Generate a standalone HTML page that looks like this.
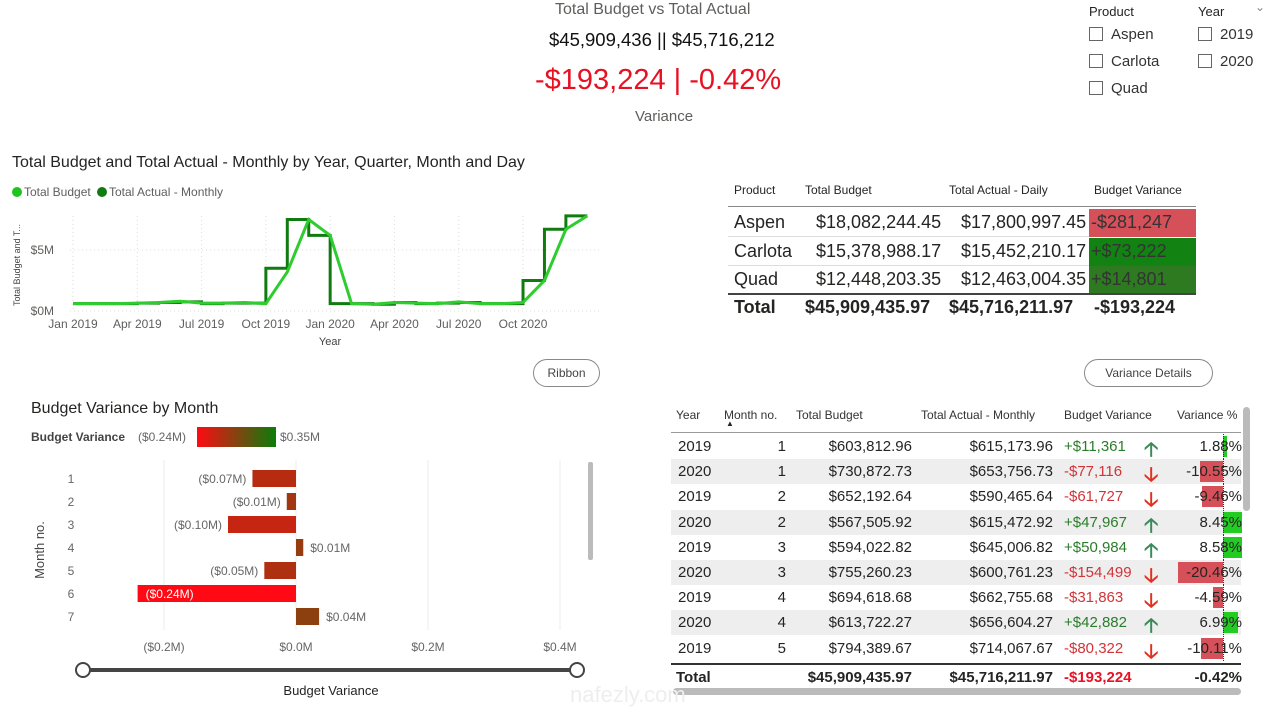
<!DOCTYPE html>
<html><head><meta charset="utf-8">
<style>
*{box-sizing:border-box;margin:0;padding:0}
body{width:1278px;height:715px;background:#fff;font-family:"Liberation Sans",sans-serif;position:relative;overflow:hidden;color:#252423}
.a{position:absolute;white-space:nowrap}
.cb{position:absolute;width:14px;height:14px;border:1px solid #666;background:#fff}
.btn{position:absolute;border:1px solid #888;border-radius:14px;font-size:12px;color:#444;text-align:center;line-height:26px;height:28px}
</style></head><body>
<div class="a" style="left:555px;top:1px;font-size:16px;color:#605e5c">Total Budget vs Total Actual</div>
<div class="a" style="left:549px;top:29px;font-size:18.5px;color:#111">$45,909,436 || $45,716,212</div>
<div class="a" style="left:535px;top:64px;font-size:29px;color:#e81123">-$193,224 | -0.42%</div>
<div class="a" style="left:635px;top:108px;font-size:15px;color:#605e5c">Variance</div>

<div class="a" style="left:1089px;top:4px;font-size:13px">Product</div>
<div class="a" style="left:1198px;top:4px;font-size:13px">Year</div>
<div class="a" style="left:1255px;top:0px;font-size:12px;color:#888">&#8964;</div>
<div class="cb" style="left:1089px;top:27px"></div>
<div class="a" style="left:1111px;top:26px;font-size:15px;color:#333">Aspen</div>
<div class="cb" style="left:1089px;top:54px"></div>
<div class="a" style="left:1111px;top:53px;font-size:15px;color:#333">Carlota</div>
<div class="cb" style="left:1089px;top:81px"></div>
<div class="a" style="left:1111px;top:80px;font-size:15px;color:#333">Quad</div>
<div class="cb" style="left:1198px;top:27px"></div>
<div class="a" style="left:1220px;top:26px;font-size:15px;color:#333">2019</div>
<div class="cb" style="left:1198px;top:54px"></div>
<div class="a" style="left:1220px;top:53px;font-size:15px;color:#333">2020</div>

<div class="a" style="left:12px;top:154px;font-size:16px;color:#252423">Total Budget and Total Actual - Monthly by Year, Quarter, Month and Day</div>
<svg id="line" class="a" style="left:0;top:180px" width="620" height="170"></svg>

<div class="btn" style="left:533px;top:359px;width:67px">Ribbon</div>
<div class="btn" style="left:1084px;top:359px;width:129px">Variance Details</div>

<div class="a" style="left:31px;top:400px;font-size:16px;color:#252423">Budget Variance by Month</div>
<svg id="bar" class="a" style="left:0;top:420px" width="640" height="295"></svg>

<div id="t1" class="a" style="left:726px;top:180px;width:470px;height:145px"></div>
<div id="t2" class="a" style="left:670px;top:403px;width:608px;height:300px"></div>

<div class="a" style="left:570px;top:682px;font-size:22px;color:#eee">nafezly.com</div>

<script>
const NS='http://www.w3.org/2000/svg';
function mk(p,t,at,txt){const e=document.createElementNS(NS,t);for(const k in at)e.setAttribute(k,at[k]);if(txt!==undefined)e.textContent=txt;p.appendChild(e);return e;}

// ---- line chart data ----
const monthLabels=['Jan 2019','Apr 2019','Jul 2019','Oct 2019','Jan 2020','Apr 2020','Jul 2020','Oct 2020'];
const yTicks=[0,5];
const budgetM=[0.6,0.6,0.6,0.65,0.7,0.8,0.65,0.65,0.7,0.6,3.2,7.5,6.2,0.6,0.55,0.7,0.65,0.6,0.75,0.6,0.6,0.7,2.5,6.7,7.8];
const actualM=[0.6,0.6,0.6,0.65,0.7,0.75,0.6,0.65,0.65,3.5,7.5,6.2,0.6,0.6,0.55,0.7,0.6,0.65,0.7,0.6,0.6,2.5,6.7,7.8];
(function(){
 const s=document.getElementById('line');
 const X=m=>73+m*21.43, Y=v=>131-v*12.2;
 mk(s,'circle',{cx:17,cy:12,r:5,fill:'#1fc41f'});
 mk(s,'text',{x:24,y:16,'font-size':12,fill:'#605e5c'},'Total Budget');
 mk(s,'circle',{cx:102,cy:12,r:5,fill:'#107c10'});
 mk(s,'text',{x:109,y:16,'font-size':12,fill:'#605e5c'},'Total Actual - Monthly');
 monthLabels.forEach((l,i)=>{const x=X(i*3);
  mk(s,'line',{x1:x,x2:x,y1:36,y2:131,stroke:'#ddd','stroke-dasharray':'1,3'});
  mk(s,'text',{x:x,y:148,'font-size':12,fill:'#605e5c','text-anchor':'middle'},l);});
 yTicks.forEach(v=>{mk(s,'line',{x1:70,x2:600,y1:Y(v),y2:Y(v),stroke:'#ddd','stroke-dasharray':'1,3'});
  mk(s,'text',{x:54,y:Y(v)+4,'font-size':12,fill:'#605e5c','text-anchor':'end'},'$'+v+'M');});
 mk(s,'text',{x:330,y:165,'font-size':11,fill:'#444','text-anchor':'middle'},'Year');
 mk(s,'text',{x:20,y:85,'font-size':9,fill:'#444','text-anchor':'middle',transform:'rotate(-90 20 85)'},'Total Budget and T...');
 let d='';actualM.forEach((v,i)=>{d+=(i?'L':'M')+X(i)+','+Y(v)+'L'+X(i+1)+','+Y(v);});
 mk(s,'path',{d:d,fill:'none',stroke:'#107c10','stroke-width':3});
 d='';budgetM.forEach((v,i)=>{d+=(i?'L':'M')+X(i)+','+Y(v);});
 mk(s,'path',{d:d,fill:'none',stroke:'#2ecc2e','stroke-width':3});
})();

// ---- bar chart data ----
const barMonths=['1','2','3','4','5','6','7'];
const barValues=[-0.066,-0.014,-0.103,0.011,-0.048,-0.24,0.035];
const barLabels=['($0.07M)','($0.01M)','($0.10M)','$0.01M','($0.05M)','($0.24M)','$0.04M'];
const xTicks=[-0.2,0,0.2,0.4];
const xTickLabels=['($0.2M)','$0.0M','$0.2M','$0.4M'];
(function(){
 const s=document.getElementById('bar');
 const X=v=>296+v*660, Yr=i=>58+i*23;
 const defs=mk(s,'defs',{});const g=mk(defs,'linearGradient',{id:'lg'});
 mk(g,'stop',{offset:'0','stop-color':'#ff0a14'});mk(g,'stop',{offset:'1','stop-color':'#0a7d0a'});
 mk(s,'text',{x:31,y:21,'font-size':12,'font-weight':'bold',fill:'#444'},'Budget Variance');
 mk(s,'text',{x:138,y:21,'font-size':12,fill:'#666'},'($0.24M)');
 mk(s,'rect',{x:197,y:7,width:79,height:20,fill:'url(#lg)'});
 mk(s,'text',{x:280,y:21,'font-size':12,fill:'#666'},'$0.35M');
 xTicks.forEach((v,i)=>{mk(s,'line',{x1:X(v),x2:X(v),y1:40,y2:210,stroke:'#eee'});
  mk(s,'text',{x:X(v),y:231,'font-size':12,fill:'#666','text-anchor':'middle'},xTickLabels[i]);});
 mk(s,'text',{x:44,y:130,'font-size':13,fill:'#444','text-anchor':'middle',transform:'rotate(-90 44 130)'},'Month no.');
 function col(v){const t=Math.max(0,Math.min(1,(v+0.24)/0.59));const r=Math.round(255+(10-255)*t),gg=Math.round(10+(125-10)*t),b=Math.round(20-10*t);return `rgb(${r},${gg},${b})`;}
 barMonths.forEach((m,i)=>{const v=barValues[i],y=Yr(i);
  mk(s,'text',{x:71,y:y+5,'font-size':12,fill:'#666','text-anchor':'middle'},m);
  const x0=Math.min(X(0),X(v)),w=Math.abs(X(v)-X(0));
  const r=mk(s,'rect',{x:x0,y:y-8,width:w,height:17,fill:col(v)});
  
  
  if(v===Math.min(...barValues)) mk(s,'text',{x:x0+8,y:y+5,'font-size':12,fill:'#fff'},barLabels[i]);
  else if(v<0) mk(s,'text',{x:x0-6,y:y+5,'font-size':12,fill:'#666','text-anchor':'end'},barLabels[i]);
  else mk(s,'text',{x:x0+w+7,y:y+5,'font-size':12,fill:'#666'},barLabels[i]);});
 mk(s,'rect',{x:588,y:42,width:5,height:98,rx:2,fill:'#bbb'});
 mk(s,'line',{x1:83,x2:577,y1:250,y2:250,stroke:'#444','stroke-width':4});
 mk(s,'circle',{cx:83,cy:250,r:7,fill:'#fff',stroke:'#444','stroke-width':2});
 mk(s,'circle',{cx:577,cy:250,r:7,fill:'#fff',stroke:'#444','stroke-width':2});
 mk(s,'text',{x:331,y:275,'font-size':13,fill:'#252423','text-anchor':'middle'},'Budget Variance');
})();

// ---- product table ----
const products=['Aspen','Carlota','Quad'];
const pBudget=['$18,082,244.45','$15,378,988.17','$12,448,203.35'];
const pActual=['$17,800,997.45','$15,452,210.17','$12,463,004.35'];
const pVar=['-$281,247','+$73,222','+$14,801'];
const pVarBg=['#d6505a','#128312','#2d7a20'];
(function(){
 const t=document.getElementById('t1');
 let h=`<div class="a" style="left:8px;top:3px;font-size:12px">Product</div><div class="a" style="left:79px;top:3px;font-size:12px">Total Budget</div><div class="a" style="left:223px;top:3px;font-size:12px">Total Actual - Daily</div><div class="a" style="left:368px;top:3px;font-size:12px">Budget Variance</div>`;
 h+=`<div class="a" style="left:2px;top:26px;width:468px;border-top:1px solid #888"></div>`;
 products.forEach((p,i)=>{const y=29+i*28.5;
  h+=`<div class="a" style="left:2px;top:${y}px;width:468px;height:28px;border-bottom:1px solid #ddd"></div>`;
  h+=`<div class="a" style="left:363px;top:${y}px;width:107px;height:28px;background:${pVarBg[i]}"></div>`;
  h+=`<div class="a" style="left:8px;top:${y+3}px;font-size:18px">${p}</div><div class="a" style="left:90px;top:${y+3}px;font-size:18px">${pBudget[i]}</div><div class="a" style="left:235px;top:${y+3}px;font-size:18px">${pActual[i]}</div><div class="a" style="left:365px;top:${y+3}px;font-size:18px;color:#333">${pVar[i]}</div>`;});
 h+=`<div class="a" style="left:2px;top:113px;width:468px;border-top:2px solid #444"></div>`;
 h+=`<div class="a" style="left:8px;top:117px;font-size:18px;font-weight:bold">Total</div><div class="a" style="left:79px;top:117px;font-size:18px;font-weight:bold">$45,909,435.97</div><div class="a" style="left:223px;top:117px;font-size:18px;font-weight:bold">$45,716,211.97</div><div class="a" style="left:368px;top:117px;font-size:18px;font-weight:bold">-$193,224</div>`;
 t.innerHTML=h;
})();

// ---- monthly table ----
const tYears=['2019','2020','2019','2020','2019','2020','2019','2020','2019'];
const tMonths=[1,1,2,2,3,3,4,4,5];
const tBudget=['$603,812.96','$730,872.73','$652,192.64','$567,505.92','$594,022.82','$755,260.23','$694,618.68','$613,722.27','$794,389.67'];
const tActual=['$615,173.96','$653,756.73','$590,465.64','$615,472.92','$645,006.82','$600,761.23','$662,755.68','$656,604.27','$714,067.67'];
const tVar=['+$11,361','-$77,116','-$61,727','+$47,967','+$50,984','-$154,499','-$31,863','+$42,882','-$80,322'];
const tPct=[1.88,-10.55,-9.46,8.45,8.58,-20.46,-4.59,6.99,-10.11];
(function(){
 const t=document.getElementById('t2');
 const hs='font-size:12px;color:#333';
 let h=`<div class="a" style="left:6px;top:5px;${hs}">Year</div><div class="a" style="left:54px;top:5px;${hs}">Month no.</div><div class="a" style="left:56px;top:16px;font-size:8px">&#9650;</div><div class="a" style="left:126px;top:5px;${hs}">Total Budget</div><div class="a" style="left:251px;top:5px;${hs}">Total Actual - Monthly</div><div class="a" style="left:394px;top:5px;${hs}">Budget Variance</div><div class="a" style="left:507px;top:5px;${hs}">Variance %</div>`;
 h+=`<div class="a" style="left:1px;top:29px;width:570px;border-top:1px solid #999"></div>`;
 tYears.forEach((yv,i)=>{const y=31+i*25.2,pos=tPct[i]>=0;
  h+=`<div class="a" style="left:1px;top:${y}px;width:570px;height:25px;background:${i%2?'#eeeeee':'#fff'}"></div>`;
  const bw=Math.abs(tPct[i])*2.2;
  h+=`<div class="a" style="left:${pos?553:553-bw}px;top:${y+2}px;width:${bw}px;height:21px;background:${pos?'#22cc22':'#d6505a'}"></div>`;
  h+=`<div class="a" style="left:553px;top:${y}px;height:25px;border-left:1px dotted #333"></div>`;
  const ts='font-size:15px;top:'+(y+4)+'px';
  h+=`<div class="a" style="left:8px;${ts}">${yv}</div><div class="a" style="right:492px;${ts}">${tMonths[i]}</div><div class="a" style="right:366px;${ts}">${tBudget[i]}</div><div class="a" style="right:225px;${ts}">${tActual[i]}</div><div class="a" style="left:394px;${ts};color:${pos?'#2a7d2a':'#d13438'}">${tVar[i]}</div><div class="a" style="left:474px;top:${y+1}px;font-size:20px;font-weight:bold;color:${pos?'#3a8a5a':'#e03020'}">${pos?'&#129121;':'&#129123;'}</div><div class="a" style="right:36px;${ts}">${tPct[i].toFixed(2)}%</div>`;});
 h+=`<div class="a" style="left:1px;top:260px;width:570px;border-top:2px solid #333"></div>`;
 const fs='font-size:15px;font-weight:bold;top:266px';
 h+=`<div class="a" style="left:6px;${fs}">Total</div><div class="a" style="right:366px;${fs}">$45,909,435.97</div><div class="a" style="right:225px;${fs}">$45,716,211.97</div><div class="a" style="left:394px;${fs};color:#e81123">-$193,224</div><div class="a" style="right:36px;${fs}">-0.42%</div>`;
 h+=`<div class="a" style="left:573px;top:4px;width:7px;height:104px;border-radius:4px;background:#bbb"></div>`;
 h+=`<div class="a" style="left:3px;top:285px;width:568px;height:7px;border-radius:4px;background:#bbb"></div>`;
 t.innerHTML=h;
})();
</script>
</body></html>
